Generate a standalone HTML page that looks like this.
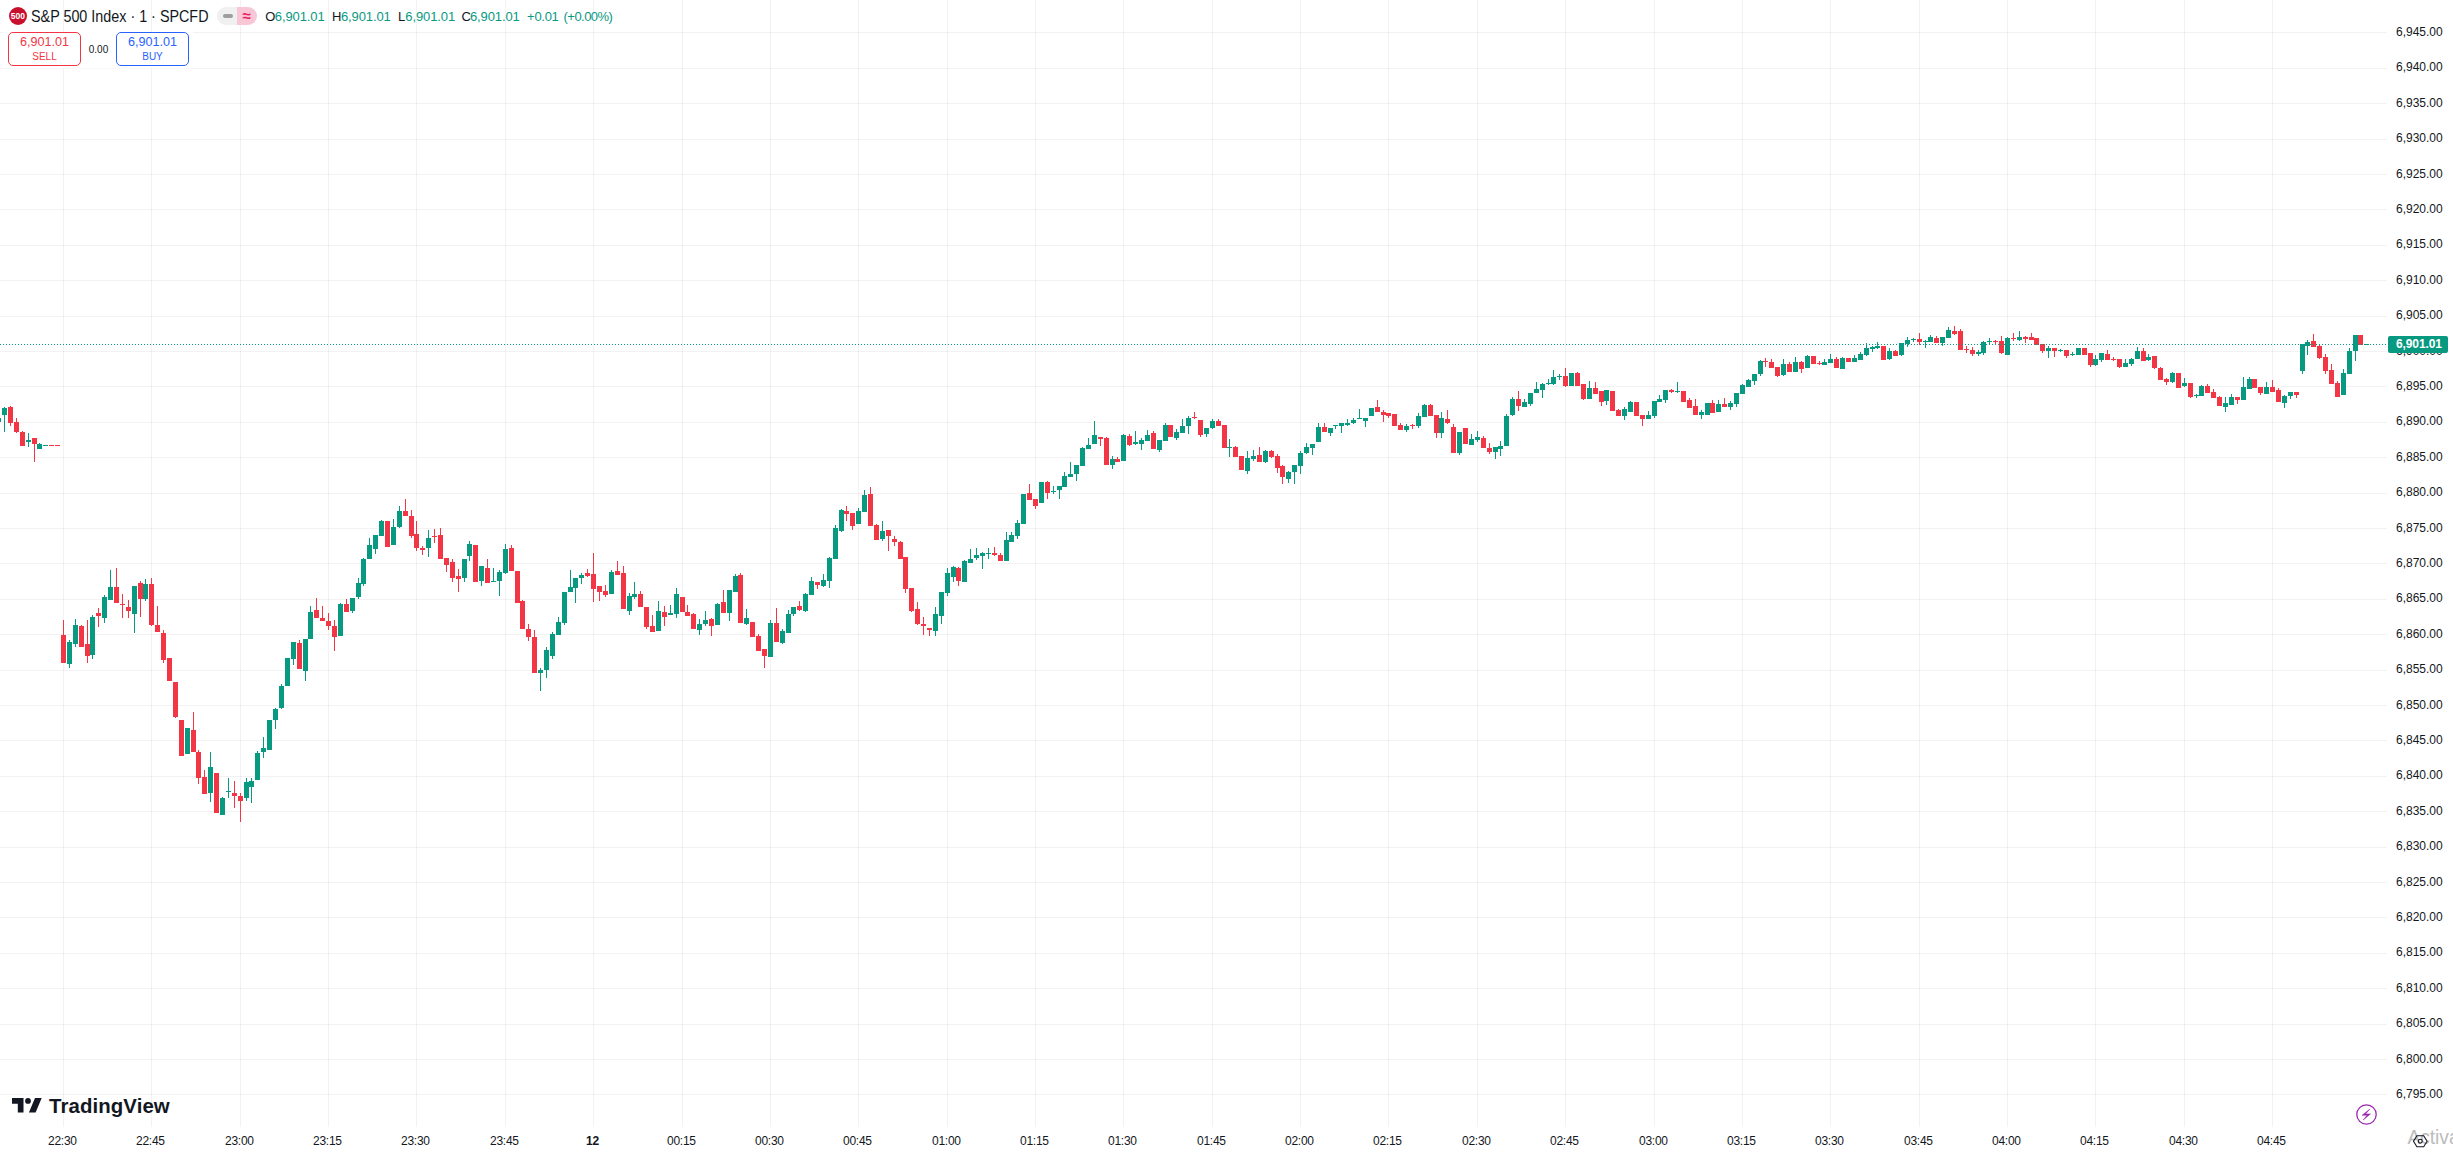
<!DOCTYPE html>
<html><head><meta charset="utf-8"><title>SPX chart</title>
<style>
html,body{margin:0;padding:0;background:#fff;}
body{width:2453px;height:1153px;position:relative;overflow:hidden;font-family:"Liberation Sans",sans-serif;color:#131722;}
.pl{position:absolute;left:2396px;width:57px;height:14px;line-height:14px;font-size:12px;white-space:nowrap;}
.tl{position:absolute;top:1134px;width:60px;text-align:center;height:14px;line-height:14px;font-size:12px;white-space:nowrap;letter-spacing:-0.25px}
.tl.b{font-weight:bold;}
.abs{position:absolute;white-space:nowrap;}
.oh{top:9px;height:16px;line-height:16px;font-size:13px;color:#089981;letter-spacing:-0.11px}
</style></head><body>
<svg width="2453" height="1153" viewBox="0 0 2453 1153" style="position:absolute;left:0;top:0" shape-rendering="crispEdges">
<path d="M63 0h1v1127h-1zM151 0h1v1127h-1zM240 0h1v1127h-1zM328 0h1v1127h-1zM416 0h1v1127h-1zM505 0h1v1127h-1zM593 0h1v1127h-1zM682 0h1v1127h-1zM770 0h1v1127h-1zM858 0h1v1127h-1zM947 0h1v1127h-1zM1035 0h1v1127h-1zM1123 0h1v1127h-1zM1212 0h1v1127h-1zM1300 0h1v1127h-1zM1388 0h1v1127h-1zM1477 0h1v1127h-1zM1565 0h1v1127h-1zM1654 0h1v1127h-1zM1742 0h1v1127h-1zM1830 0h1v1127h-1zM1919 0h1v1127h-1zM2007 0h1v1127h-1zM2095 0h1v1127h-1zM2184 0h1v1127h-1zM2272 0h1v1127h-1z" fill="#000" fill-opacity="0.052"/>
<path d="M0 1094h2387v1h-2387zM0 1059h2387v1h-2387zM0 1024h2387v1h-2387zM0 988h2387v1h-2387zM0 953h2387v1h-2387zM0 917h2387v1h-2387zM0 882h2387v1h-2387zM0 847h2387v1h-2387zM0 811h2387v1h-2387zM0 776h2387v1h-2387zM0 740h2387v1h-2387zM0 705h2387v1h-2387zM0 670h2387v1h-2387zM0 634h2387v1h-2387zM0 599h2387v1h-2387zM0 563h2387v1h-2387zM0 528h2387v1h-2387zM0 493h2387v1h-2387zM0 457h2387v1h-2387zM0 422h2387v1h-2387zM0 386h2387v1h-2387zM0 351h2387v1h-2387zM0 316h2387v1h-2387zM0 280h2387v1h-2387zM0 245h2387v1h-2387zM0 209h2387v1h-2387zM0 174h2387v1h-2387zM0 139h2387v1h-2387zM0 103h2387v1h-2387zM0 68h2387v1h-2387zM0 32h2387v1h-2387z" fill="#000" fill-opacity="0.052"/>
<path d="M-4 418h5v4h-5zM2 408h5v7h-5zM4 407h1v1h-1zM4 415h1v17h-1zM26 440h5v2h-5zM28 433h1v7h-1zM28 442h1v5h-1zM37 444h5v5h-5zM39 443h1v1h-1zM43 445h5v1h-5zM67 642h5v22h-5zM69 640h1v2h-1zM69 664h1v4h-1zM73 625h5v19h-5zM75 619h1v6h-1zM75 644h1v3h-1zM90 617h5v38h-5zM92 615h1v2h-1zM92 655h1v4h-1zM102 597h5v21h-5zM104 595h1v2h-1zM104 618h1v5h-1zM108 587h5v13h-5zM110 570h1v17h-1zM132 586h5v28h-5zM134 614h1v19h-1zM143 584h5v15h-5zM145 579h1v5h-1zM145 599h1v2h-1zM185 728h5v26h-5zM208 767h5v26h-5zM210 752h1v15h-1zM210 793h1v9h-1zM220 798h5v17h-5zM222 797h1v1h-1zM226 791h5v1h-5zM228 778h1v13h-1zM228 792h1v6h-1zM244 782h5v16h-5zM246 778h1v4h-1zM246 798h1v3h-1zM249 781h5v6h-5zM251 778h1v3h-1zM251 787h1v16h-1zM255 753h5v27h-5zM257 751h1v2h-1zM261 748h5v4h-5zM263 737h1v11h-1zM263 752h1v6h-1zM267 720h5v30h-5zM273 709h5v11h-5zM275 708h1v1h-1zM275 720h1v9h-1zM279 686h5v22h-5zM281 684h1v2h-1zM281 708h1v1h-1zM285 658h5v28h-5zM291 642h5v17h-5zM293 659h1v6h-1zM303 639h5v32h-5zM305 671h1v10h-1zM308 612h5v27h-5zM310 606h1v6h-1zM338 604h5v32h-5zM340 603h1v1h-1zM350 598h5v13h-5zM352 611h1v2h-1zM356 583h5v14h-5zM358 578h1v5h-1zM358 597h1v2h-1zM361 559h5v25h-5zM363 558h1v1h-1zM363 584h1v2h-1zM367 545h5v14h-5zM369 538h1v7h-1zM373 535h5v14h-5zM375 549h1v5h-1zM379 521h5v15h-5zM381 520h1v1h-1zM391 527h5v18h-5zM393 519h1v8h-1zM397 511h5v16h-5zM399 506h1v5h-1zM399 527h1v1h-1zM426 538h5v10h-5zM428 530h1v8h-1zM428 548h1v9h-1zM462 559h5v19h-5zM464 578h1v4h-1zM467 544h5v12h-5zM469 541h1v3h-1zM469 556h1v5h-1zM479 566h5v15h-5zM481 581h1v5h-1zM491 581h5v1h-5zM493 568h1v13h-1zM497 572h5v9h-5zM499 570h1v2h-1zM499 581h1v15h-1zM503 549h5v24h-5zM505 544h1v5h-1zM505 573h1v1h-1zM538 670h5v3h-5zM540 668h1v2h-1zM540 673h1v18h-1zM544 650h5v20h-5zM546 647h1v3h-1zM546 670h1v8h-1zM550 634h5v22h-5zM552 632h1v2h-1zM552 656h1v3h-1zM556 622h5v13h-5zM558 617h1v5h-1zM562 592h5v31h-5zM564 623h1v2h-1zM568 587h5v5h-5zM570 570h1v17h-1zM573 578h5v10h-5zM575 588h1v15h-1zM579 575h5v3h-5zM581 573h1v2h-1zM581 578h1v6h-1zM609 572h5v22h-5zM611 570h1v2h-1zM627 596h5v15h-5zM629 593h1v3h-1zM629 611h1v4h-1zM632 594h5v3h-5zM634 582h1v12h-1zM634 597h1v2h-1zM656 611h5v20h-5zM658 601h1v10h-1zM668 613h5v2h-5zM670 605h1v8h-1zM674 594h5v20h-5zM676 588h1v6h-1zM676 614h1v4h-1zM697 624h5v6h-5zM699 619h1v5h-1zM699 630h1v5h-1zM703 620h5v4h-5zM705 611h1v9h-1zM705 624h1v2h-1zM715 604h5v21h-5zM717 603h1v1h-1zM727 590h5v23h-5zM729 613h1v8h-1zM733 576h5v16h-5zM735 574h1v2h-1zM744 618h5v6h-5zM746 609h1v9h-1zM746 624h1v1h-1zM768 623h5v34h-5zM770 620h1v3h-1zM780 631h5v12h-5zM782 629h1v2h-1zM782 643h1v1h-1zM786 614h5v19h-5zM788 610h1v4h-1zM791 607h5v7h-5zM793 614h1v2h-1zM803 594h5v17h-5zM805 593h1v1h-1zM805 611h1v1h-1zM809 581h5v14h-5zM811 577h1v4h-1zM821 580h5v6h-5zM823 574h1v6h-1zM823 586h1v1h-1zM827 558h5v23h-5zM829 557h1v1h-1zM829 581h1v7h-1zM833 528h5v31h-5zM835 525h1v3h-1zM839 510h5v21h-5zM841 509h1v1h-1zM841 531h1v1h-1zM856 511h5v13h-5zM858 508h1v3h-1zM862 495h5v17h-5zM864 490h1v5h-1zM880 531h5v8h-5zM882 521h1v10h-1zM882 539h1v2h-1zM933 614h5v17h-5zM935 607h1v7h-1zM935 631h1v5h-1zM939 592h5v24h-5zM941 616h1v8h-1zM945 573h5v20h-5zM947 568h1v5h-1zM947 593h1v3h-1zM951 567h5v10h-5zM953 566h1v1h-1zM953 577h1v5h-1zM962 561h5v21h-5zM964 560h1v1h-1zM968 559h5v4h-5zM970 549h1v10h-1zM974 555h5v3h-5zM976 548h1v7h-1zM976 558h1v2h-1zM980 553h5v3h-5zM982 552h1v1h-1zM982 556h1v13h-1zM986 553h5v1h-5zM988 548h1v5h-1zM988 554h1v5h-1zM1004 540h5v21h-5zM1006 532h1v8h-1zM1009 535h5v7h-5zM1011 532h1v3h-1zM1015 523h5v13h-5zM1017 520h1v3h-1zM1017 536h1v3h-1zM1021 494h5v30h-5zM1039 482h5v21h-5zM1051 491h5v1h-5zM1053 486h1v5h-1zM1053 492h1v2h-1zM1057 486h5v4h-5zM1059 490h1v9h-1zM1062 476h5v11h-5zM1064 472h1v4h-1zM1068 474h5v3h-5zM1070 462h1v12h-1zM1074 465h5v9h-5zM1076 474h1v7h-1zM1080 448h5v18h-5zM1082 447h1v1h-1zM1086 445h5v4h-5zM1088 438h1v7h-1zM1092 435h5v9h-5zM1094 421h1v14h-1zM1110 459h5v6h-5zM1112 456h1v3h-1zM1112 465h1v4h-1zM1121 435h5v26h-5zM1123 434h1v1h-1zM1133 442h5v2h-5zM1135 431h1v11h-1zM1135 444h1v1h-1zM1139 440h5v4h-5zM1141 438h1v2h-1zM1141 444h1v6h-1zM1145 435h5v6h-5zM1147 430h1v5h-1zM1157 440h5v10h-5zM1159 450h1v2h-1zM1163 425h5v16h-5zM1165 423h1v2h-1zM1174 432h5v6h-5zM1176 429h1v3h-1zM1176 438h1v2h-1zM1180 426h5v7h-5zM1182 419h1v7h-1zM1186 418h5v8h-5zM1188 416h1v2h-1zM1188 426h1v8h-1zM1204 428h5v6h-5zM1206 434h1v3h-1zM1210 421h5v7h-5zM1212 419h1v2h-1zM1212 428h1v1h-1zM1227 447h5v1h-5zM1229 439h1v8h-1zM1229 448h1v9h-1zM1245 458h5v13h-5zM1247 451h1v7h-1zM1247 471h1v3h-1zM1251 456h5v3h-5zM1253 450h1v6h-1zM1253 459h1v2h-1zM1263 451h5v11h-5zM1265 450h1v1h-1zM1265 462h1v1h-1zM1286 472h5v7h-5zM1288 471h1v1h-1zM1288 479h1v4h-1zM1292 465h5v7h-5zM1294 472h1v12h-1zM1298 453h5v13h-5zM1300 451h1v2h-1zM1300 466h1v8h-1zM1304 447h5v6h-5zM1306 443h1v4h-1zM1306 453h1v1h-1zM1310 444h5v4h-5zM1312 448h1v7h-1zM1316 427h5v15h-5zM1318 423h1v4h-1zM1328 428h5v5h-5zM1330 433h1v3h-1zM1333 425h5v1h-5zM1335 426h1v3h-1zM1339 423h5v3h-5zM1341 426h1v7h-1zM1345 423h5v2h-5zM1347 419h1v4h-1zM1347 425h1v1h-1zM1351 420h5v3h-5zM1353 418h1v2h-1zM1353 423h1v1h-1zM1357 418h5v1h-5zM1359 409h1v9h-1zM1363 418h5v3h-5zM1365 421h1v6h-1zM1369 408h5v8h-5zM1404 426h5v4h-5zM1406 424h1v2h-1zM1406 430h1v2h-1zM1416 416h5v10h-5zM1418 413h1v3h-1zM1418 426h1v2h-1zM1422 405h5v12h-5zM1424 404h1v1h-1zM1439 418h5v15h-5zM1441 412h1v6h-1zM1441 433h1v5h-1zM1457 432h5v21h-5zM1459 453h1v2h-1zM1469 439h5v6h-5zM1471 434h1v5h-1zM1475 437h5v3h-5zM1477 431h1v6h-1zM1477 440h1v2h-1zM1493 447h5v5h-5zM1495 452h1v7h-1zM1498 446h5v3h-5zM1500 441h1v5h-1zM1500 449h1v7h-1zM1504 416h5v30h-5zM1506 414h1v2h-1zM1510 399h5v16h-5zM1512 397h1v2h-1zM1512 415h1v1h-1zM1522 402h5v5h-5zM1524 399h1v3h-1zM1528 393h5v11h-5zM1530 404h1v2h-1zM1534 389h5v4h-5zM1536 382h1v7h-1zM1540 384h5v6h-5zM1542 383h1v1h-1zM1542 390h1v8h-1zM1546 383h5v1h-5zM1548 379h1v4h-1zM1548 384h1v1h-1zM1551 377h5v7h-5zM1553 370h1v7h-1zM1553 384h1v1h-1zM1557 376h5v1h-5zM1559 374h1v2h-1zM1559 377h1v3h-1zM1569 373h5v13h-5zM1587 388h5v11h-5zM1589 381h1v7h-1zM1604 390h5v11h-5zM1606 401h1v4h-1zM1622 409h5v7h-5zM1624 407h1v2h-1zM1624 416h1v4h-1zM1628 402h5v10h-5zM1630 401h1v1h-1zM1646 415h5v4h-5zM1648 411h1v4h-1zM1652 401h5v15h-5zM1654 416h1v2h-1zM1657 399h5v3h-5zM1659 395h1v4h-1zM1663 390h5v10h-5zM1665 400h1v3h-1zM1675 391h5v1h-5zM1677 382h1v9h-1zM1677 392h1v1h-1zM1699 412h5v3h-5zM1701 410h1v2h-1zM1701 415h1v4h-1zM1705 403h5v12h-5zM1716 404h5v8h-5zM1718 400h1v4h-1zM1728 403h5v4h-5zM1730 401h1v2h-1zM1730 407h1v3h-1zM1734 393h5v11h-5zM1736 404h1v3h-1zM1740 385h5v9h-5zM1742 384h1v1h-1zM1746 380h5v7h-5zM1748 379h1v1h-1zM1752 374h5v7h-5zM1754 381h1v4h-1zM1758 361h5v13h-5zM1760 360h1v1h-1zM1760 374h1v2h-1zM1781 364h5v11h-5zM1783 359h1v5h-1zM1783 375h1v1h-1zM1793 362h5v10h-5zM1795 357h1v5h-1zM1805 356h5v12h-5zM1807 355h1v1h-1zM1822 362h5v3h-5zM1824 359h1v3h-1zM1828 359h5v4h-5zM1830 354h1v5h-1zM1840 358h5v11h-5zM1842 357h1v1h-1zM1852 358h5v4h-5zM1854 355h1v3h-1zM1858 354h5v6h-5zM1860 352h1v2h-1zM1864 348h5v7h-5zM1866 343h1v5h-1zM1866 355h1v1h-1zM1870 347h5v2h-5zM1872 346h1v1h-1zM1872 349h1v3h-1zM1875 346h5v2h-5zM1877 342h1v4h-1zM1877 348h1v1h-1zM1887 351h5v8h-5zM1889 348h1v3h-1zM1889 359h1v1h-1zM1899 343h5v12h-5zM1901 355h1v1h-1zM1905 340h5v4h-5zM1907 337h1v3h-1zM1907 344h1v3h-1zM1911 339h5v1h-5zM1913 338h1v1h-1zM1913 340h1v2h-1zM1923 341h5v1h-5zM1925 340h1v1h-1zM1925 342h1v6h-1zM1928 337h5v5h-5zM1930 335h1v2h-1zM1940 337h5v6h-5zM1942 343h1v3h-1zM1946 330h5v8h-5zM1948 327h1v3h-1zM1976 352h5v2h-5zM1978 350h1v2h-1zM1978 354h1v2h-1zM1981 342h5v11h-5zM1983 341h1v1h-1zM1983 353h1v2h-1zM1987 341h5v1h-5zM1989 338h1v3h-1zM1989 342h1v3h-1zM2005 338h5v17h-5zM2007 337h1v1h-1zM2017 337h5v3h-5zM2019 331h1v6h-1zM2019 340h1v1h-1zM2046 348h5v3h-5zM2048 346h1v2h-1zM2048 351h1v7h-1zM2058 350h5v1h-5zM2060 349h1v1h-1zM2060 351h1v1h-1zM2070 354h5v1h-5zM2072 352h1v2h-1zM2072 355h1v1h-1zM2076 348h5v7h-5zM2093 359h5v6h-5zM2095 355h1v4h-1zM2095 365h1v1h-1zM2099 353h5v7h-5zM2101 360h1v2h-1zM2123 363h5v4h-5zM2125 359h1v4h-1zM2129 359h5v5h-5zM2131 358h1v1h-1zM2131 364h1v2h-1zM2135 351h5v8h-5zM2137 347h1v4h-1zM2146 357h5v3h-5zM2148 354h1v3h-1zM2148 360h1v1h-1zM2170 373h5v9h-5zM2172 372h1v1h-1zM2172 382h1v1h-1zM2182 383h5v3h-5zM2184 378h1v5h-1zM2184 386h1v1h-1zM2194 395h5v1h-5zM2196 394h1v1h-1zM2196 396h1v2h-1zM2199 386h5v10h-5zM2201 385h1v1h-1zM2223 403h5v4h-5zM2225 397h1v6h-1zM2225 407h1v5h-1zM2229 397h5v8h-5zM2231 394h1v3h-1zM2241 387h5v13h-5zM2243 377h1v10h-1zM2247 379h5v10h-5zM2249 377h1v2h-1zM2264 387h5v7h-5zM2266 382h1v5h-1zM2282 396h5v7h-5zM2284 395h1v1h-1zM2284 403h1v5h-1zM2288 392h5v4h-5zM2290 396h1v3h-1zM2300 344h5v27h-5zM2302 371h1v3h-1zM2305 342h5v4h-5zM2307 340h1v2h-1zM2307 346h1v9h-1zM2341 373h5v22h-5zM2343 369h1v4h-1zM2347 351h5v23h-5zM2349 348h1v3h-1zM2353 335h5v16h-5zM2355 351h1v10h-1zM2364 344h5v1h-5z" fill="#089981"/>
<path d="M8 407h5v16h-5zM10 406h1v1h-1zM10 423h1v3h-1zM14 422h5v10h-5zM16 418h1v4h-1zM16 432h1v1h-1zM20 432h5v14h-5zM22 431h1v1h-1zM32 438h5v6h-5zM34 444h1v18h-1zM49 445h5v1h-5zM55 445h5v1h-5zM61 635h5v28h-5zM63 620h1v15h-1zM79 626h5v21h-5zM81 625h1v1h-1zM85 644h5v12h-5zM87 620h1v24h-1zM87 656h1v7h-1zM96 613h5v3h-5zM98 608h1v5h-1zM98 616h1v11h-1zM114 587h5v16h-5zM116 568h1v19h-1zM120 604h5v1h-5zM122 594h1v10h-1zM122 605h1v13h-1zM126 607h5v4h-5zM128 600h1v7h-1zM128 611h1v7h-1zM138 583h5v16h-5zM140 581h1v2h-1zM140 599h1v18h-1zM149 584h5v41h-5zM151 578h1v6h-1zM151 625h1v1h-1zM155 625h5v7h-5zM157 606h1v19h-1zM161 633h5v27h-5zM163 630h1v3h-1zM163 660h1v3h-1zM167 658h5v23h-5zM173 682h5v35h-5zM175 717h1v1h-1zM179 720h5v36h-5zM191 730h5v22h-5zM193 712h1v18h-1zM196 752h5v26h-5zM198 750h1v2h-1zM198 778h1v6h-1zM202 777h5v17h-5zM204 770h1v7h-1zM214 773h5v40h-5zM232 793h5v3h-5zM234 781h1v12h-1zM234 796h1v12h-1zM238 796h5v5h-5zM240 793h1v3h-1zM240 801h1v21h-1zM297 643h5v26h-5zM299 640h1v3h-1zM314 610h5v8h-5zM316 598h1v12h-1zM320 618h5v3h-5zM322 606h1v12h-1zM326 621h5v5h-5zM328 613h1v8h-1zM328 626h1v4h-1zM332 626h5v11h-5zM334 620h1v6h-1zM334 637h1v14h-1zM344 604h5v8h-5zM346 599h1v5h-1zM385 521h5v26h-5zM403 511h5v5h-5zM405 499h1v12h-1zM409 516h5v20h-5zM411 510h1v6h-1zM411 536h1v2h-1zM414 534h5v14h-5zM416 521h1v13h-1zM416 548h1v3h-1zM420 548h5v2h-5zM422 546h1v2h-1zM422 550h1v5h-1zM432 536h5v1h-5zM434 529h1v7h-1zM434 537h1v6h-1zM438 535h5v24h-5zM440 528h1v7h-1zM444 558h5v7h-5zM446 565h1v7h-1zM450 562h5v16h-5zM452 559h1v3h-1zM452 578h1v4h-1zM456 576h5v3h-5zM458 569h1v7h-1zM458 579h1v13h-1zM473 545h5v37h-5zM485 568h5v15h-5zM487 559h1v9h-1zM509 548h5v23h-5zM511 545h1v3h-1zM515 571h5v32h-5zM520 601h5v28h-5zM522 600h1v1h-1zM526 629h5v8h-5zM528 624h1v5h-1zM528 637h1v4h-1zM532 637h5v36h-5zM534 630h1v7h-1zM585 573h5v3h-5zM587 569h1v4h-1zM587 576h1v1h-1zM591 574h5v15h-5zM593 553h1v21h-1zM593 589h1v13h-1zM597 586h5v6h-5zM599 592h1v9h-1zM603 591h5v4h-5zM605 585h1v6h-1zM605 595h1v2h-1zM615 571h5v4h-5zM617 561h1v10h-1zM621 573h5v36h-5zM623 566h1v7h-1zM638 594h5v13h-5zM640 591h1v3h-1zM644 607h5v20h-5zM646 627h1v2h-1zM650 626h5v6h-5zM652 615h1v11h-1zM662 612h5v5h-5zM664 606h1v6h-1zM664 617h1v9h-1zM680 597h5v15h-5zM685 612h5v4h-5zM687 605h1v7h-1zM691 614h5v15h-5zM693 613h1v1h-1zM709 619h5v7h-5zM711 618h1v1h-1zM711 626h1v10h-1zM721 602h5v11h-5zM723 590h1v12h-1zM738 575h5v48h-5zM740 573h1v2h-1zM750 622h5v15h-5zM756 636h5v15h-5zM758 634h1v2h-1zM762 649h5v7h-5zM764 656h1v12h-1zM774 623h5v19h-5zM776 608h1v15h-1zM797 606h5v4h-5zM799 601h1v5h-1zM799 610h1v1h-1zM815 582h5v3h-5zM817 585h1v4h-1zM844 511h5v3h-5zM846 506h1v5h-1zM846 514h1v7h-1zM850 513h5v13h-5zM852 526h1v4h-1zM868 494h5v32h-5zM870 487h1v7h-1zM874 525h5v15h-5zM876 524h1v1h-1zM886 530h5v6h-5zM888 536h1v15h-1zM892 539h5v3h-5zM894 536h1v3h-1zM894 542h1v4h-1zM898 542h5v17h-5zM900 541h1v1h-1zM903 557h5v32h-5zM905 589h1v4h-1zM909 588h5v23h-5zM911 611h1v1h-1zM915 609h5v15h-5zM917 602h1v7h-1zM917 624h1v1h-1zM921 624h5v2h-5zM923 617h1v7h-1zM923 626h1v9h-1zM927 628h5v2h-5zM929 630h1v6h-1zM956 568h5v13h-5zM958 567h1v1h-1zM958 581h1v5h-1zM992 553h5v2h-5zM994 547h1v6h-1zM994 555h1v1h-1zM998 555h5v6h-5zM1000 553h1v2h-1zM1027 493h5v7h-5zM1029 484h1v9h-1zM1033 499h5v7h-5zM1035 506h1v3h-1zM1045 482h5v11h-5zM1047 481h1v1h-1zM1047 493h1v6h-1zM1098 437h5v2h-5zM1100 439h1v7h-1zM1104 438h5v27h-5zM1106 437h1v1h-1zM1115 459h5v3h-5zM1117 457h1v2h-1zM1127 436h5v9h-5zM1129 434h1v2h-1zM1129 445h1v1h-1zM1151 433h5v16h-5zM1153 431h1v2h-1zM1168 425h5v12h-5zM1192 417h5v1h-5zM1194 412h1v5h-1zM1194 418h1v1h-1zM1198 420h5v15h-5zM1200 435h1v2h-1zM1216 421h5v5h-5zM1218 419h1v2h-1zM1222 425h5v23h-5zM1233 447h5v10h-5zM1235 446h1v1h-1zM1239 456h5v14h-5zM1257 455h5v7h-5zM1259 447h1v8h-1zM1269 451h5v6h-5zM1271 450h1v1h-1zM1271 457h1v1h-1zM1275 456h5v12h-5zM1277 454h1v2h-1zM1277 468h1v5h-1zM1280 466h5v11h-5zM1282 465h1v1h-1zM1282 477h1v7h-1zM1322 427h5v5h-5zM1324 423h1v4h-1zM1375 407h5v5h-5zM1377 400h1v7h-1zM1381 412h5v3h-5zM1383 410h1v2h-1zM1383 415h1v7h-1zM1386 413h5v3h-5zM1388 416h1v2h-1zM1392 414h5v12h-5zM1398 425h5v5h-5zM1400 423h1v2h-1zM1410 425h5v1h-5zM1412 424h1v1h-1zM1412 426h1v3h-1zM1428 405h5v11h-5zM1430 404h1v1h-1zM1434 415h5v18h-5zM1436 433h1v5h-1zM1445 419h5v4h-5zM1447 410h1v9h-1zM1447 423h1v1h-1zM1451 427h5v26h-5zM1453 424h1v3h-1zM1463 428h5v16h-5zM1481 438h5v10h-5zM1483 436h1v2h-1zM1487 448h5v4h-5zM1489 443h1v5h-1zM1489 452h1v2h-1zM1516 399h5v7h-5zM1518 391h1v8h-1zM1518 406h1v5h-1zM1563 376h5v10h-5zM1565 368h1v8h-1zM1565 386h1v1h-1zM1575 373h5v13h-5zM1577 372h1v1h-1zM1581 384h5v15h-5zM1583 399h1v1h-1zM1593 388h5v6h-5zM1595 382h1v6h-1zM1599 391h5v11h-5zM1601 402h1v4h-1zM1610 391h5v20h-5zM1616 410h5v6h-5zM1618 409h1v1h-1zM1634 402h5v14h-5zM1640 415h5v4h-5zM1642 419h1v7h-1zM1669 390h5v2h-5zM1671 389h1v1h-1zM1671 392h1v1h-1zM1681 391h5v11h-5zM1687 400h5v8h-5zM1689 398h1v2h-1zM1693 406h5v9h-5zM1695 399h1v7h-1zM1710 403h5v10h-5zM1712 400h1v3h-1zM1722 404h5v3h-5zM1724 398h1v6h-1zM1763 361h5v1h-5zM1765 358h1v3h-1zM1765 362h1v5h-1zM1769 362h5v6h-5zM1771 359h1v3h-1zM1775 367h5v9h-5zM1777 376h1v1h-1zM1787 364h5v8h-5zM1789 362h1v2h-1zM1799 362h5v7h-5zM1801 361h1v1h-1zM1801 369h1v4h-1zM1811 356h5v8h-5zM1817 363h5v1h-5zM1819 361h1v2h-1zM1819 364h1v1h-1zM1834 359h5v9h-5zM1836 357h1v2h-1zM1846 358h5v4h-5zM1881 346h5v14h-5zM1893 351h5v5h-5zM1895 350h1v1h-1zM1917 339h5v3h-5zM1919 333h1v6h-1zM1919 342h1v3h-1zM1934 338h5v5h-5zM1936 336h1v2h-1zM1952 331h5v3h-5zM1954 326h1v5h-1zM1954 334h1v1h-1zM1958 331h5v19h-5zM1960 329h1v2h-1zM1964 349h5v1h-5zM1966 346h1v3h-1zM1966 350h1v3h-1zM1970 350h5v4h-5zM1972 347h1v3h-1zM1972 354h1v2h-1zM1993 341h5v1h-5zM1995 340h1v1h-1zM1995 342h1v2h-1zM1999 341h5v12h-5zM2001 336h1v5h-1zM2001 353h1v1h-1zM2011 338h5v1h-5zM2013 333h1v5h-1zM2013 339h1v2h-1zM2023 337h5v2h-5zM2025 336h1v1h-1zM2025 339h1v4h-1zM2029 337h5v3h-5zM2031 333h1v4h-1zM2034 338h5v7h-5zM2040 344h5v7h-5zM2042 351h1v2h-1zM2052 348h5v3h-5zM2054 351h1v6h-1zM2064 350h5v6h-5zM2066 356h1v2h-1zM2082 348h5v7h-5zM2088 353h5v12h-5zM2090 365h1v2h-1zM2105 354h5v6h-5zM2107 350h1v4h-1zM2111 359h5v1h-5zM2113 357h1v2h-1zM2113 360h1v1h-1zM2117 359h5v8h-5zM2119 367h1v1h-1zM2141 351h5v10h-5zM2143 348h1v3h-1zM2152 356h5v12h-5zM2154 368h1v1h-1zM2158 368h5v12h-5zM2160 367h1v1h-1zM2164 379h5v3h-5zM2166 378h1v1h-1zM2166 382h1v3h-1zM2176 373h5v15h-5zM2188 383h5v14h-5zM2190 397h1v1h-1zM2205 386h5v7h-5zM2207 384h1v2h-1zM2211 392h5v6h-5zM2213 389h1v3h-1zM2217 397h5v9h-5zM2219 396h1v1h-1zM2235 397h5v3h-5zM2237 400h1v4h-1zM2252 379h5v9h-5zM2258 387h5v6h-5zM2260 393h1v2h-1zM2270 387h5v5h-5zM2272 380h1v7h-1zM2276 390h5v12h-5zM2278 388h1v2h-1zM2294 392h5v3h-5zM2296 395h1v3h-1zM2311 341h5v6h-5zM2313 334h1v7h-1zM2317 346h5v12h-5zM2319 345h1v1h-1zM2319 358h1v1h-1zM2323 357h5v14h-5zM2325 354h1v3h-1zM2325 371h1v3h-1zM2329 370h5v14h-5zM2331 364h1v6h-1zM2335 383h5v14h-5zM2337 381h1v2h-1zM2358 335h5v10h-5z" fill="#f23645"/>
<path d="M0 344h1v1h-1zM3 344h1v1h-1zM6 344h1v1h-1zM9 344h1v1h-1zM12 344h1v1h-1zM15 344h1v1h-1zM18 344h1v1h-1zM21 344h1v1h-1zM24 344h1v1h-1zM27 344h1v1h-1zM30 344h1v1h-1zM33 344h1v1h-1zM36 344h1v1h-1zM39 344h1v1h-1zM42 344h1v1h-1zM45 344h1v1h-1zM48 344h1v1h-1zM51 344h1v1h-1zM54 344h1v1h-1zM57 344h1v1h-1zM60 344h1v1h-1zM63 344h1v1h-1zM66 344h1v1h-1zM69 344h1v1h-1zM72 344h1v1h-1zM75 344h1v1h-1zM78 344h1v1h-1zM81 344h1v1h-1zM84 344h1v1h-1zM87 344h1v1h-1zM90 344h1v1h-1zM93 344h1v1h-1zM96 344h1v1h-1zM99 344h1v1h-1zM102 344h1v1h-1zM105 344h1v1h-1zM108 344h1v1h-1zM111 344h1v1h-1zM114 344h1v1h-1zM117 344h1v1h-1zM120 344h1v1h-1zM123 344h1v1h-1zM126 344h1v1h-1zM129 344h1v1h-1zM132 344h1v1h-1zM135 344h1v1h-1zM138 344h1v1h-1zM141 344h1v1h-1zM144 344h1v1h-1zM147 344h1v1h-1zM150 344h1v1h-1zM153 344h1v1h-1zM156 344h1v1h-1zM159 344h1v1h-1zM162 344h1v1h-1zM165 344h1v1h-1zM168 344h1v1h-1zM171 344h1v1h-1zM174 344h1v1h-1zM177 344h1v1h-1zM180 344h1v1h-1zM183 344h1v1h-1zM186 344h1v1h-1zM189 344h1v1h-1zM192 344h1v1h-1zM195 344h1v1h-1zM198 344h1v1h-1zM201 344h1v1h-1zM204 344h1v1h-1zM207 344h1v1h-1zM210 344h1v1h-1zM213 344h1v1h-1zM216 344h1v1h-1zM219 344h1v1h-1zM222 344h1v1h-1zM225 344h1v1h-1zM228 344h1v1h-1zM231 344h1v1h-1zM234 344h1v1h-1zM237 344h1v1h-1zM240 344h1v1h-1zM243 344h1v1h-1zM246 344h1v1h-1zM249 344h1v1h-1zM252 344h1v1h-1zM255 344h1v1h-1zM258 344h1v1h-1zM261 344h1v1h-1zM264 344h1v1h-1zM267 344h1v1h-1zM270 344h1v1h-1zM273 344h1v1h-1zM276 344h1v1h-1zM279 344h1v1h-1zM282 344h1v1h-1zM285 344h1v1h-1zM288 344h1v1h-1zM291 344h1v1h-1zM294 344h1v1h-1zM297 344h1v1h-1zM300 344h1v1h-1zM303 344h1v1h-1zM306 344h1v1h-1zM309 344h1v1h-1zM312 344h1v1h-1zM315 344h1v1h-1zM318 344h1v1h-1zM321 344h1v1h-1zM324 344h1v1h-1zM327 344h1v1h-1zM330 344h1v1h-1zM333 344h1v1h-1zM336 344h1v1h-1zM339 344h1v1h-1zM342 344h1v1h-1zM345 344h1v1h-1zM348 344h1v1h-1zM351 344h1v1h-1zM354 344h1v1h-1zM357 344h1v1h-1zM360 344h1v1h-1zM363 344h1v1h-1zM366 344h1v1h-1zM369 344h1v1h-1zM372 344h1v1h-1zM375 344h1v1h-1zM378 344h1v1h-1zM381 344h1v1h-1zM384 344h1v1h-1zM387 344h1v1h-1zM390 344h1v1h-1zM393 344h1v1h-1zM396 344h1v1h-1zM399 344h1v1h-1zM402 344h1v1h-1zM405 344h1v1h-1zM408 344h1v1h-1zM411 344h1v1h-1zM414 344h1v1h-1zM417 344h1v1h-1zM420 344h1v1h-1zM423 344h1v1h-1zM426 344h1v1h-1zM429 344h1v1h-1zM432 344h1v1h-1zM435 344h1v1h-1zM438 344h1v1h-1zM441 344h1v1h-1zM444 344h1v1h-1zM447 344h1v1h-1zM450 344h1v1h-1zM453 344h1v1h-1zM456 344h1v1h-1zM459 344h1v1h-1zM462 344h1v1h-1zM465 344h1v1h-1zM468 344h1v1h-1zM471 344h1v1h-1zM474 344h1v1h-1zM477 344h1v1h-1zM480 344h1v1h-1zM483 344h1v1h-1zM486 344h1v1h-1zM489 344h1v1h-1zM492 344h1v1h-1zM495 344h1v1h-1zM498 344h1v1h-1zM501 344h1v1h-1zM504 344h1v1h-1zM507 344h1v1h-1zM510 344h1v1h-1zM513 344h1v1h-1zM516 344h1v1h-1zM519 344h1v1h-1zM522 344h1v1h-1zM525 344h1v1h-1zM528 344h1v1h-1zM531 344h1v1h-1zM534 344h1v1h-1zM537 344h1v1h-1zM540 344h1v1h-1zM543 344h1v1h-1zM546 344h1v1h-1zM549 344h1v1h-1zM552 344h1v1h-1zM555 344h1v1h-1zM558 344h1v1h-1zM561 344h1v1h-1zM564 344h1v1h-1zM567 344h1v1h-1zM570 344h1v1h-1zM573 344h1v1h-1zM576 344h1v1h-1zM579 344h1v1h-1zM582 344h1v1h-1zM585 344h1v1h-1zM588 344h1v1h-1zM591 344h1v1h-1zM594 344h1v1h-1zM597 344h1v1h-1zM600 344h1v1h-1zM603 344h1v1h-1zM606 344h1v1h-1zM609 344h1v1h-1zM612 344h1v1h-1zM615 344h1v1h-1zM618 344h1v1h-1zM621 344h1v1h-1zM624 344h1v1h-1zM627 344h1v1h-1zM630 344h1v1h-1zM633 344h1v1h-1zM636 344h1v1h-1zM639 344h1v1h-1zM642 344h1v1h-1zM645 344h1v1h-1zM648 344h1v1h-1zM651 344h1v1h-1zM654 344h1v1h-1zM657 344h1v1h-1zM660 344h1v1h-1zM663 344h1v1h-1zM666 344h1v1h-1zM669 344h1v1h-1zM672 344h1v1h-1zM675 344h1v1h-1zM678 344h1v1h-1zM681 344h1v1h-1zM684 344h1v1h-1zM687 344h1v1h-1zM690 344h1v1h-1zM693 344h1v1h-1zM696 344h1v1h-1zM699 344h1v1h-1zM702 344h1v1h-1zM705 344h1v1h-1zM708 344h1v1h-1zM711 344h1v1h-1zM714 344h1v1h-1zM717 344h1v1h-1zM720 344h1v1h-1zM723 344h1v1h-1zM726 344h1v1h-1zM729 344h1v1h-1zM732 344h1v1h-1zM735 344h1v1h-1zM738 344h1v1h-1zM741 344h1v1h-1zM744 344h1v1h-1zM747 344h1v1h-1zM750 344h1v1h-1zM753 344h1v1h-1zM756 344h1v1h-1zM759 344h1v1h-1zM762 344h1v1h-1zM765 344h1v1h-1zM768 344h1v1h-1zM771 344h1v1h-1zM774 344h1v1h-1zM777 344h1v1h-1zM780 344h1v1h-1zM783 344h1v1h-1zM786 344h1v1h-1zM789 344h1v1h-1zM792 344h1v1h-1zM795 344h1v1h-1zM798 344h1v1h-1zM801 344h1v1h-1zM804 344h1v1h-1zM807 344h1v1h-1zM810 344h1v1h-1zM813 344h1v1h-1zM816 344h1v1h-1zM819 344h1v1h-1zM822 344h1v1h-1zM825 344h1v1h-1zM828 344h1v1h-1zM831 344h1v1h-1zM834 344h1v1h-1zM837 344h1v1h-1zM840 344h1v1h-1zM843 344h1v1h-1zM846 344h1v1h-1zM849 344h1v1h-1zM852 344h1v1h-1zM855 344h1v1h-1zM858 344h1v1h-1zM861 344h1v1h-1zM864 344h1v1h-1zM867 344h1v1h-1zM870 344h1v1h-1zM873 344h1v1h-1zM876 344h1v1h-1zM879 344h1v1h-1zM882 344h1v1h-1zM885 344h1v1h-1zM888 344h1v1h-1zM891 344h1v1h-1zM894 344h1v1h-1zM897 344h1v1h-1zM900 344h1v1h-1zM903 344h1v1h-1zM906 344h1v1h-1zM909 344h1v1h-1zM912 344h1v1h-1zM915 344h1v1h-1zM918 344h1v1h-1zM921 344h1v1h-1zM924 344h1v1h-1zM927 344h1v1h-1zM930 344h1v1h-1zM933 344h1v1h-1zM936 344h1v1h-1zM939 344h1v1h-1zM942 344h1v1h-1zM945 344h1v1h-1zM948 344h1v1h-1zM951 344h1v1h-1zM954 344h1v1h-1zM957 344h1v1h-1zM960 344h1v1h-1zM963 344h1v1h-1zM966 344h1v1h-1zM969 344h1v1h-1zM972 344h1v1h-1zM975 344h1v1h-1zM978 344h1v1h-1zM981 344h1v1h-1zM984 344h1v1h-1zM987 344h1v1h-1zM990 344h1v1h-1zM993 344h1v1h-1zM996 344h1v1h-1zM999 344h1v1h-1zM1002 344h1v1h-1zM1005 344h1v1h-1zM1008 344h1v1h-1zM1011 344h1v1h-1zM1014 344h1v1h-1zM1017 344h1v1h-1zM1020 344h1v1h-1zM1023 344h1v1h-1zM1026 344h1v1h-1zM1029 344h1v1h-1zM1032 344h1v1h-1zM1035 344h1v1h-1zM1038 344h1v1h-1zM1041 344h1v1h-1zM1044 344h1v1h-1zM1047 344h1v1h-1zM1050 344h1v1h-1zM1053 344h1v1h-1zM1056 344h1v1h-1zM1059 344h1v1h-1zM1062 344h1v1h-1zM1065 344h1v1h-1zM1068 344h1v1h-1zM1071 344h1v1h-1zM1074 344h1v1h-1zM1077 344h1v1h-1zM1080 344h1v1h-1zM1083 344h1v1h-1zM1086 344h1v1h-1zM1089 344h1v1h-1zM1092 344h1v1h-1zM1095 344h1v1h-1zM1098 344h1v1h-1zM1101 344h1v1h-1zM1104 344h1v1h-1zM1107 344h1v1h-1zM1110 344h1v1h-1zM1113 344h1v1h-1zM1116 344h1v1h-1zM1119 344h1v1h-1zM1122 344h1v1h-1zM1125 344h1v1h-1zM1128 344h1v1h-1zM1131 344h1v1h-1zM1134 344h1v1h-1zM1137 344h1v1h-1zM1140 344h1v1h-1zM1143 344h1v1h-1zM1146 344h1v1h-1zM1149 344h1v1h-1zM1152 344h1v1h-1zM1155 344h1v1h-1zM1158 344h1v1h-1zM1161 344h1v1h-1zM1164 344h1v1h-1zM1167 344h1v1h-1zM1170 344h1v1h-1zM1173 344h1v1h-1zM1176 344h1v1h-1zM1179 344h1v1h-1zM1182 344h1v1h-1zM1185 344h1v1h-1zM1188 344h1v1h-1zM1191 344h1v1h-1zM1194 344h1v1h-1zM1197 344h1v1h-1zM1200 344h1v1h-1zM1203 344h1v1h-1zM1206 344h1v1h-1zM1209 344h1v1h-1zM1212 344h1v1h-1zM1215 344h1v1h-1zM1218 344h1v1h-1zM1221 344h1v1h-1zM1224 344h1v1h-1zM1227 344h1v1h-1zM1230 344h1v1h-1zM1233 344h1v1h-1zM1236 344h1v1h-1zM1239 344h1v1h-1zM1242 344h1v1h-1zM1245 344h1v1h-1zM1248 344h1v1h-1zM1251 344h1v1h-1zM1254 344h1v1h-1zM1257 344h1v1h-1zM1260 344h1v1h-1zM1263 344h1v1h-1zM1266 344h1v1h-1zM1269 344h1v1h-1zM1272 344h1v1h-1zM1275 344h1v1h-1zM1278 344h1v1h-1zM1281 344h1v1h-1zM1284 344h1v1h-1zM1287 344h1v1h-1zM1290 344h1v1h-1zM1293 344h1v1h-1zM1296 344h1v1h-1zM1299 344h1v1h-1zM1302 344h1v1h-1zM1305 344h1v1h-1zM1308 344h1v1h-1zM1311 344h1v1h-1zM1314 344h1v1h-1zM1317 344h1v1h-1zM1320 344h1v1h-1zM1323 344h1v1h-1zM1326 344h1v1h-1zM1329 344h1v1h-1zM1332 344h1v1h-1zM1335 344h1v1h-1zM1338 344h1v1h-1zM1341 344h1v1h-1zM1344 344h1v1h-1zM1347 344h1v1h-1zM1350 344h1v1h-1zM1353 344h1v1h-1zM1356 344h1v1h-1zM1359 344h1v1h-1zM1362 344h1v1h-1zM1365 344h1v1h-1zM1368 344h1v1h-1zM1371 344h1v1h-1zM1374 344h1v1h-1zM1377 344h1v1h-1zM1380 344h1v1h-1zM1383 344h1v1h-1zM1386 344h1v1h-1zM1389 344h1v1h-1zM1392 344h1v1h-1zM1395 344h1v1h-1zM1398 344h1v1h-1zM1401 344h1v1h-1zM1404 344h1v1h-1zM1407 344h1v1h-1zM1410 344h1v1h-1zM1413 344h1v1h-1zM1416 344h1v1h-1zM1419 344h1v1h-1zM1422 344h1v1h-1zM1425 344h1v1h-1zM1428 344h1v1h-1zM1431 344h1v1h-1zM1434 344h1v1h-1zM1437 344h1v1h-1zM1440 344h1v1h-1zM1443 344h1v1h-1zM1446 344h1v1h-1zM1449 344h1v1h-1zM1452 344h1v1h-1zM1455 344h1v1h-1zM1458 344h1v1h-1zM1461 344h1v1h-1zM1464 344h1v1h-1zM1467 344h1v1h-1zM1470 344h1v1h-1zM1473 344h1v1h-1zM1476 344h1v1h-1zM1479 344h1v1h-1zM1482 344h1v1h-1zM1485 344h1v1h-1zM1488 344h1v1h-1zM1491 344h1v1h-1zM1494 344h1v1h-1zM1497 344h1v1h-1zM1500 344h1v1h-1zM1503 344h1v1h-1zM1506 344h1v1h-1zM1509 344h1v1h-1zM1512 344h1v1h-1zM1515 344h1v1h-1zM1518 344h1v1h-1zM1521 344h1v1h-1zM1524 344h1v1h-1zM1527 344h1v1h-1zM1530 344h1v1h-1zM1533 344h1v1h-1zM1536 344h1v1h-1zM1539 344h1v1h-1zM1542 344h1v1h-1zM1545 344h1v1h-1zM1548 344h1v1h-1zM1551 344h1v1h-1zM1554 344h1v1h-1zM1557 344h1v1h-1zM1560 344h1v1h-1zM1563 344h1v1h-1zM1566 344h1v1h-1zM1569 344h1v1h-1zM1572 344h1v1h-1zM1575 344h1v1h-1zM1578 344h1v1h-1zM1581 344h1v1h-1zM1584 344h1v1h-1zM1587 344h1v1h-1zM1590 344h1v1h-1zM1593 344h1v1h-1zM1596 344h1v1h-1zM1599 344h1v1h-1zM1602 344h1v1h-1zM1605 344h1v1h-1zM1608 344h1v1h-1zM1611 344h1v1h-1zM1614 344h1v1h-1zM1617 344h1v1h-1zM1620 344h1v1h-1zM1623 344h1v1h-1zM1626 344h1v1h-1zM1629 344h1v1h-1zM1632 344h1v1h-1zM1635 344h1v1h-1zM1638 344h1v1h-1zM1641 344h1v1h-1zM1644 344h1v1h-1zM1647 344h1v1h-1zM1650 344h1v1h-1zM1653 344h1v1h-1zM1656 344h1v1h-1zM1659 344h1v1h-1zM1662 344h1v1h-1zM1665 344h1v1h-1zM1668 344h1v1h-1zM1671 344h1v1h-1zM1674 344h1v1h-1zM1677 344h1v1h-1zM1680 344h1v1h-1zM1683 344h1v1h-1zM1686 344h1v1h-1zM1689 344h1v1h-1zM1692 344h1v1h-1zM1695 344h1v1h-1zM1698 344h1v1h-1zM1701 344h1v1h-1zM1704 344h1v1h-1zM1707 344h1v1h-1zM1710 344h1v1h-1zM1713 344h1v1h-1zM1716 344h1v1h-1zM1719 344h1v1h-1zM1722 344h1v1h-1zM1725 344h1v1h-1zM1728 344h1v1h-1zM1731 344h1v1h-1zM1734 344h1v1h-1zM1737 344h1v1h-1zM1740 344h1v1h-1zM1743 344h1v1h-1zM1746 344h1v1h-1zM1749 344h1v1h-1zM1752 344h1v1h-1zM1755 344h1v1h-1zM1758 344h1v1h-1zM1761 344h1v1h-1zM1764 344h1v1h-1zM1767 344h1v1h-1zM1770 344h1v1h-1zM1773 344h1v1h-1zM1776 344h1v1h-1zM1779 344h1v1h-1zM1782 344h1v1h-1zM1785 344h1v1h-1zM1788 344h1v1h-1zM1791 344h1v1h-1zM1794 344h1v1h-1zM1797 344h1v1h-1zM1800 344h1v1h-1zM1803 344h1v1h-1zM1806 344h1v1h-1zM1809 344h1v1h-1zM1812 344h1v1h-1zM1815 344h1v1h-1zM1818 344h1v1h-1zM1821 344h1v1h-1zM1824 344h1v1h-1zM1827 344h1v1h-1zM1830 344h1v1h-1zM1833 344h1v1h-1zM1836 344h1v1h-1zM1839 344h1v1h-1zM1842 344h1v1h-1zM1845 344h1v1h-1zM1848 344h1v1h-1zM1851 344h1v1h-1zM1854 344h1v1h-1zM1857 344h1v1h-1zM1860 344h1v1h-1zM1863 344h1v1h-1zM1866 344h1v1h-1zM1869 344h1v1h-1zM1872 344h1v1h-1zM1875 344h1v1h-1zM1878 344h1v1h-1zM1881 344h1v1h-1zM1884 344h1v1h-1zM1887 344h1v1h-1zM1890 344h1v1h-1zM1893 344h1v1h-1zM1896 344h1v1h-1zM1899 344h1v1h-1zM1902 344h1v1h-1zM1905 344h1v1h-1zM1908 344h1v1h-1zM1911 344h1v1h-1zM1914 344h1v1h-1zM1917 344h1v1h-1zM1920 344h1v1h-1zM1923 344h1v1h-1zM1926 344h1v1h-1zM1929 344h1v1h-1zM1932 344h1v1h-1zM1935 344h1v1h-1zM1938 344h1v1h-1zM1941 344h1v1h-1zM1944 344h1v1h-1zM1947 344h1v1h-1zM1950 344h1v1h-1zM1953 344h1v1h-1zM1956 344h1v1h-1zM1959 344h1v1h-1zM1962 344h1v1h-1zM1965 344h1v1h-1zM1968 344h1v1h-1zM1971 344h1v1h-1zM1974 344h1v1h-1zM1977 344h1v1h-1zM1980 344h1v1h-1zM1983 344h1v1h-1zM1986 344h1v1h-1zM1989 344h1v1h-1zM1992 344h1v1h-1zM1995 344h1v1h-1zM1998 344h1v1h-1zM2001 344h1v1h-1zM2004 344h1v1h-1zM2007 344h1v1h-1zM2010 344h1v1h-1zM2013 344h1v1h-1zM2016 344h1v1h-1zM2019 344h1v1h-1zM2022 344h1v1h-1zM2025 344h1v1h-1zM2028 344h1v1h-1zM2031 344h1v1h-1zM2034 344h1v1h-1zM2037 344h1v1h-1zM2040 344h1v1h-1zM2043 344h1v1h-1zM2046 344h1v1h-1zM2049 344h1v1h-1zM2052 344h1v1h-1zM2055 344h1v1h-1zM2058 344h1v1h-1zM2061 344h1v1h-1zM2064 344h1v1h-1zM2067 344h1v1h-1zM2070 344h1v1h-1zM2073 344h1v1h-1zM2076 344h1v1h-1zM2079 344h1v1h-1zM2082 344h1v1h-1zM2085 344h1v1h-1zM2088 344h1v1h-1zM2091 344h1v1h-1zM2094 344h1v1h-1zM2097 344h1v1h-1zM2100 344h1v1h-1zM2103 344h1v1h-1zM2106 344h1v1h-1zM2109 344h1v1h-1zM2112 344h1v1h-1zM2115 344h1v1h-1zM2118 344h1v1h-1zM2121 344h1v1h-1zM2124 344h1v1h-1zM2127 344h1v1h-1zM2130 344h1v1h-1zM2133 344h1v1h-1zM2136 344h1v1h-1zM2139 344h1v1h-1zM2142 344h1v1h-1zM2145 344h1v1h-1zM2148 344h1v1h-1zM2151 344h1v1h-1zM2154 344h1v1h-1zM2157 344h1v1h-1zM2160 344h1v1h-1zM2163 344h1v1h-1zM2166 344h1v1h-1zM2169 344h1v1h-1zM2172 344h1v1h-1zM2175 344h1v1h-1zM2178 344h1v1h-1zM2181 344h1v1h-1zM2184 344h1v1h-1zM2187 344h1v1h-1zM2190 344h1v1h-1zM2193 344h1v1h-1zM2196 344h1v1h-1zM2199 344h1v1h-1zM2202 344h1v1h-1zM2205 344h1v1h-1zM2208 344h1v1h-1zM2211 344h1v1h-1zM2214 344h1v1h-1zM2217 344h1v1h-1zM2220 344h1v1h-1zM2223 344h1v1h-1zM2226 344h1v1h-1zM2229 344h1v1h-1zM2232 344h1v1h-1zM2235 344h1v1h-1zM2238 344h1v1h-1zM2241 344h1v1h-1zM2244 344h1v1h-1zM2247 344h1v1h-1zM2250 344h1v1h-1zM2253 344h1v1h-1zM2256 344h1v1h-1zM2259 344h1v1h-1zM2262 344h1v1h-1zM2265 344h1v1h-1zM2268 344h1v1h-1zM2271 344h1v1h-1zM2274 344h1v1h-1zM2277 344h1v1h-1zM2280 344h1v1h-1zM2283 344h1v1h-1zM2286 344h1v1h-1zM2289 344h1v1h-1zM2292 344h1v1h-1zM2295 344h1v1h-1zM2298 344h1v1h-1zM2301 344h1v1h-1zM2304 344h1v1h-1zM2307 344h1v1h-1zM2310 344h1v1h-1zM2313 344h1v1h-1zM2316 344h1v1h-1zM2319 344h1v1h-1zM2322 344h1v1h-1zM2325 344h1v1h-1zM2328 344h1v1h-1zM2331 344h1v1h-1zM2334 344h1v1h-1zM2337 344h1v1h-1zM2340 344h1v1h-1zM2343 344h1v1h-1zM2346 344h1v1h-1zM2349 344h1v1h-1zM2352 344h1v1h-1zM2355 344h1v1h-1zM2358 344h1v1h-1zM2361 344h1v1h-1zM2364 344h1v1h-1zM2367 344h1v1h-1zM2370 344h1v1h-1zM2373 344h1v1h-1zM2376 344h1v1h-1zM2379 344h1v1h-1zM2382 344h1v1h-1zM2385 344h1v1h-1z" fill="#089981"/>
</svg>
<div class="pl" style="top:1087px">6,795.00</div><div class="pl" style="top:1052px">6,800.00</div><div class="pl" style="top:1016px">6,805.00</div><div class="pl" style="top:981px">6,810.00</div><div class="pl" style="top:945px">6,815.00</div><div class="pl" style="top:910px">6,820.00</div><div class="pl" style="top:875px">6,825.00</div><div class="pl" style="top:839px">6,830.00</div><div class="pl" style="top:804px">6,835.00</div><div class="pl" style="top:768px">6,840.00</div><div class="pl" style="top:733px">6,845.00</div><div class="pl" style="top:698px">6,850.00</div><div class="pl" style="top:662px">6,855.00</div><div class="pl" style="top:627px">6,860.00</div><div class="pl" style="top:591px">6,865.00</div><div class="pl" style="top:556px">6,870.00</div><div class="pl" style="top:521px">6,875.00</div><div class="pl" style="top:485px">6,880.00</div><div class="pl" style="top:450px">6,885.00</div><div class="pl" style="top:414px">6,890.00</div><div class="pl" style="top:379px">6,895.00</div><div class="pl" style="top:344px">6,900.00</div><div class="pl" style="top:308px">6,905.00</div><div class="pl" style="top:273px">6,910.00</div><div class="pl" style="top:237px">6,915.00</div><div class="pl" style="top:202px">6,920.00</div><div class="pl" style="top:167px">6,925.00</div><div class="pl" style="top:131px">6,930.00</div><div class="pl" style="top:96px">6,935.00</div><div class="pl" style="top:60px">6,940.00</div><div class="pl" style="top:25px">6,945.00</div>
<div class="tl" style="left:32.4px">22:30</div><div class="tl" style="left:120.4px">22:45</div><div class="tl" style="left:209.4px">23:00</div><div class="tl" style="left:297.4px">23:15</div><div class="tl" style="left:385.4px">23:30</div><div class="tl" style="left:474.4px">23:45</div><div class="tl b" style="left:562.4px">12</div><div class="tl" style="left:651.4px">00:15</div><div class="tl" style="left:739.4px">00:30</div><div class="tl" style="left:827.4px">00:45</div><div class="tl" style="left:916.4px">01:00</div><div class="tl" style="left:1004.4px">01:15</div><div class="tl" style="left:1092.4px">01:30</div><div class="tl" style="left:1181.4px">01:45</div><div class="tl" style="left:1269.4px">02:00</div><div class="tl" style="left:1357.4px">02:15</div><div class="tl" style="left:1446.4px">02:30</div><div class="tl" style="left:1534.4px">02:45</div><div class="tl" style="left:1623.4px">03:00</div><div class="tl" style="left:1711.4px">03:15</div><div class="tl" style="left:1799.4px">03:30</div><div class="tl" style="left:1888.4px">03:45</div><div class="tl" style="left:1976.4px">04:00</div><div class="tl" style="left:2064.4px">04:15</div><div class="tl" style="left:2153.4px">04:30</div><div class="tl" style="left:2241.4px">04:45</div>
<!-- price label -->
<div class="abs" style="left:2388px;top:336px;width:60px;height:17px;background:#089981;border-radius:2px;"></div>
<div class="abs" style="left:2396px;top:337px;height:14px;line-height:14px;font-size:12px;color:#fff;font-weight:bold;letter-spacing:-0.12px">6,901.01</div>

<!-- header -->
<div class="abs" style="left:8.75px;top:6.75px;width:18.3px;height:18.3px;border-radius:50%;background:#c8102e;"></div>
<div class="abs" style="left:8.9px;top:6.9px;width:18px;height:18px;line-height:18px;text-align:center;font-size:8.5px;font-weight:bold;color:#fff;letter-spacing:0px">500</div>
<div class="abs" id="title" style="left:31px;top:7px;height:20px;line-height:20px;font-size:15.7px;transform-origin:0 50%;transform:scaleX(0.9142)">S&amp;P 500 Index · 1 · SPCFD</div>
<div class="abs" style="left:217px;top:7px;width:20px;height:18px;background:#f0f0f0;border-radius:9px 0 0 9px;"></div>
<div class="abs" style="left:237px;top:7px;width:20px;height:18px;background:#f9c6d6;border-radius:0 9px 9px 0;"></div>
<div class="abs" style="left:223px;top:14px;width:10px;height:4px;background:#9e9e9e;border-radius:2px;"></div>
<div class="abs" style="left:240.5px;top:6px;width:12px;height:20px;line-height:20px;text-align:center;font-size:15px;font-weight:bold;color:#e91e63;">≈</div>
<div class="abs oh" style="left:265.3px;color:#131722">O</div><div class="abs oh" id="v1" style="left:274.8px">6,901.01</div>
<div class="abs oh" style="left:331.9px;color:#131722">H</div><div class="abs oh" style="left:341px">6,901.01</div>
<div class="abs oh" style="left:398.1px;color:#131722">L</div><div class="abs oh" style="left:405.3px">6,901.01</div>
<div class="abs oh" style="left:461.5px;color:#131722">C</div><div class="abs oh" style="left:470px">6,901.01</div>
<div class="abs oh" id="v5" style="left:527.1px;letter-spacing:-0.3px">+0.01</div><div class="abs oh" id="v6" style="left:563.6px;letter-spacing:-0.55px">(+0.00%)</div>

<div class="abs" style="left:4px;top:32px;width:189px;height:36px;background:#fff;"></div><div class="abs" style="left:4px;top:68px;width:189px;height:1px;background:rgba(255,255,255,0.5);"></div>
<div class="abs" style="left:8px;top:32px;width:71px;height:32px;border:1px solid #f23645;border-radius:5px;"></div>
<div class="abs" style="left:8px;top:35px;width:73px;text-align:center;font-size:12.6px;line-height:15px;color:#f23645;">6,901.01</div>
<div class="abs" style="left:8px;top:50px;width:73px;text-align:center;font-size:10px;line-height:13px;color:#f23645;">SELL</div>
<div class="abs" style="left:81px;top:42.5px;width:35px;text-align:center;font-size:10px;line-height:14px;">0.00</div>
<div class="abs" style="left:116px;top:32px;width:71px;height:32px;border:1px solid #2962ff;border-radius:5px;"></div>
<div class="abs" style="left:116px;top:35px;width:73px;text-align:center;font-size:12.6px;line-height:15px;color:#2962ff;">6,901.01</div>
<div class="abs" style="left:116px;top:50px;width:73px;text-align:center;font-size:10px;line-height:13px;color:#2962ff;">BUY</div>

<!-- TradingView logo -->
<svg class="abs" style="left:12px;top:1098px" width="30" height="15" viewBox="0 0 30 15"><path fill="#131722" d="M0 0h11.5v14.6H5.8V5.7H0zM16 0a2.9 2.9 0 1 1 0 5.8a2.9 2.9 0 0 1 0-5.8zM23 0h6.7l-6.1 14.6h-6.7z"/></svg>
<div class="abs" id="tv" style="left:49px;top:1093.7px;height:24px;line-height:24px;font-size:20.4px;font-weight:bold;letter-spacing:0.1px;color:#131722">TradingView</div>

<!-- bottom right icons -->
<svg class="abs" style="left:2355px;top:1103px" width="23" height="23" viewBox="0 0 23 23"><circle cx="11.5" cy="11.5" r="9.7" fill="none" stroke="#9c27b0" stroke-width="1.3"/><path d="M14.9 6.0L7.1 12.3h5.0L8.1 17.0l7.4-6.1h-4.9z" fill="#9c27b0" stroke="#9c27b0" stroke-width="0.5" stroke-linejoin="round"/></svg>
<div class="abs" style="left:2407.4px;top:1125px;height:26px;line-height:26px;font-size:19.3px;letter-spacing:-0.05px;color:#bcbcbc;">Activa</div>
<svg class="abs" style="left:2412px;top:1133.3px" width="17" height="16" viewBox="0 0 17 16"><path d="M4.9 2.7h6.8l3.4 5.5l-3.4 5.5H4.9l-3.4-5.5z" fill="none" stroke="#131722" stroke-width="1.1"/><circle cx="8.3" cy="8.2" r="1.9" fill="none" stroke="#131722" stroke-width="1.1"/></svg>
</body></html>
